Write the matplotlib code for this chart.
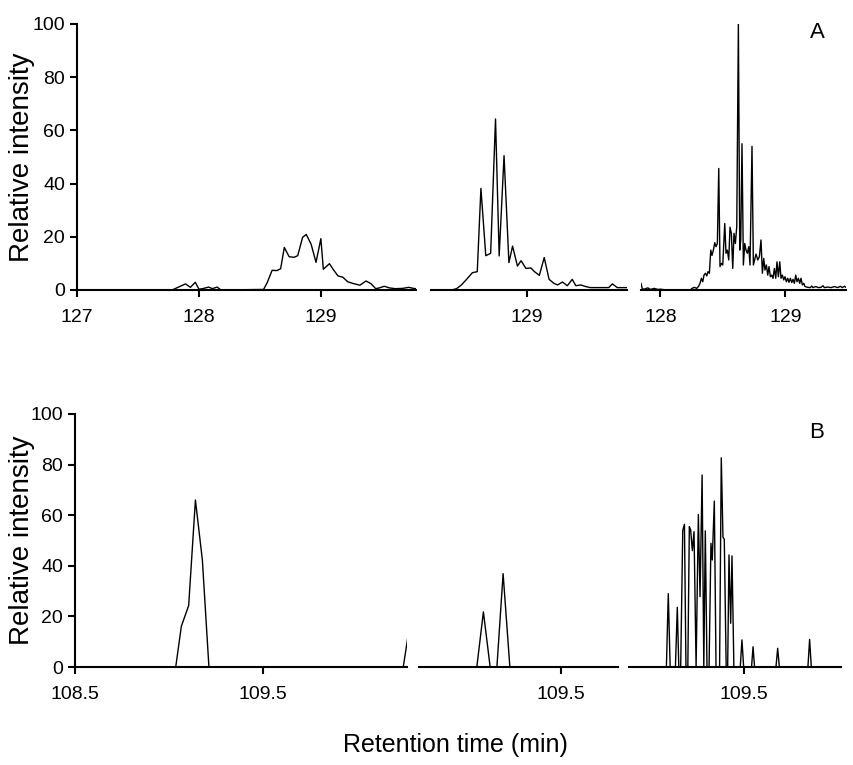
import numpy as np
import matplotlib.pyplot as plt

plt.rcParams['font.family'] = ['Liberation Sans', 'DejaVu Sans']

# ------------------------------------------------------------------
# data (retention time in min, rel. intensity)
# ------------------------------------------------------------------

# A, left
a1_t = [127.0, 127.78, 127.89, 127.93, 127.97, 128.0, 128.03, 128.08, 128.11, 128.15, 128.18,
        128.53, 128.56, 128.60, 128.64, 128.67, 128.70, 128.74, 128.78, 128.81, 128.85,
        128.88, 128.92, 128.96, 129.00, 129.02, 129.07, 129.10, 129.14, 129.18, 129.22,
        129.26, 129.32, 129.37, 129.41, 129.45, 129.48, 129.52, 129.56, 129.61, 129.67,
        129.72, 129.76, 129.80]
a1_y = [0, 0, 2.3, 1.0, 2.9, 0.3, 0.5, 1.1, 0.5, 1.1, 0,
        0.2, 2.8, 7.4, 7.3, 8.0, 16.0, 12.5, 12.3, 12.9, 19.8,
        20.9, 17.2, 10.4, 19.3, 7.8, 9.9, 7.8, 5.3, 4.8, 3.1,
        2.5, 1.8, 3.4, 2.4, 0.5, 0.8, 1.4, 0.8, 0.5, 0.6,
        1.0, 0.6, 0.4]

# A, middle
a2_t = [128.21, 128.38, 128.42, 128.46, 128.51, 128.55, 128.59, 128.62, 128.66, 128.70,
        128.74, 128.77, 128.81, 128.85, 128.88, 128.92, 128.95, 128.99, 129.03, 129.06,
        129.10, 129.14, 129.18, 129.22, 129.25, 129.29, 129.33, 129.37, 129.40, 129.44,
        129.48, 129.52, 129.67, 129.70, 129.74, 129.82]
a2_y = [0, 0, 0.5, 1.9, 4.4, 6.5, 6.9, 38.2, 12.9, 13.8,
        64.3, 12.8, 50.5, 10.3, 16.5, 9.0, 11.0, 8.1, 8.3, 6.9,
        5.5, 12.2, 4.0, 2.5, 1.9, 3.0, 1.6, 4.0, 1.6, 1.9,
        1.3, 0.9, 0.9, 2.3, 0.9, 0.9]

# A, right
a3_t = [127.845, 127.855, 127.87, 127.90, 127.92, 127.95, 127.98, 128.0, 128.05, 128.24,
        128.253, 128.272, 128.291, 128.307, 128.317, 128.328, 128.339, 128.349, 128.360,
        128.371, 128.381, 128.392, 128.403, 128.413, 128.424, 128.435, 128.445, 128.456,
        128.467, 128.477, 128.488, 128.499, 128.515, 128.525, 128.536, 128.547, 128.557,
        128.568, 128.579, 128.589, 128.600, 128.611, 128.624, 128.635, 128.643, 128.653,
        128.664, 128.675, 128.685, 128.696, 128.707, 128.717, 128.733, 128.744,
        128.765, 128.779, 128.792, 128.805, 128.816, 128.827, 128.837, 128.848, 128.859,
        128.869, 128.880, 128.891, 128.901, 128.912, 128.923, 128.933, 128.944, 128.955,
        128.965, 128.976, 128.987, 128.997, 129.008, 129.019, 129.029, 129.040, 129.051,
        129.061, 129.072, 129.083, 129.093, 129.104, 129.115, 129.125, 129.136, 129.147,
        129.157, 129.179, 129.200, 129.211, 129.221, 129.243, 129.264, 129.285, 129.301,
        129.312, 129.339, 129.365, 129.392, 129.419, 129.440, 129.456, 129.472, 129.485]
a3_y = [2.5, 0.5, 0.3, 0.8, 0.2, 0.6, 0.2, 0.3, 0, 0,
        0.6, 1.0, 0.6, 1.5, 2.5, 4.4, 3.1, 5.6, 6.3,
        5.3, 6.9, 6.3, 15.0, 13.0, 15.0, 17.8, 16.3, 17.5,
        45.7, 8.8, 10.0, 9.4, 25.0, 13.8, 15.0, 11.3, 23.6,
        21.3, 8.1, 21.3, 17.5, 23.8, 100.0, 15.0, 18.8, 55.0,
        9.4, 17.5, 15.0, 13.8, 16.3, 9.4, 54.0, 9.4,
        13.5, 11.3, 12.5, 18.8, 6.3, 11.9, 7.5, 9.4, 5.6,
        8.8, 5.0, 5.6, 4.4, 8.1, 4.4, 10.6, 5.0, 10.6,
        4.4, 5.6, 3.8, 5.0, 3.1, 4.4, 2.9, 4.4, 2.8,
        4.0, 2.5, 5.6, 3.1, 4.4, 2.5, 4.4, 1.9, 2.5,
        1.3, 1.0, 0.9, 1.5, 0.9, 1.3, 0.9, 1.0, 1.6,
        0.9, 1.1, 0.9, 1.3, 0.9, 1.4, 0.9, 1.4, 1.0]

# B, left
b1_t = [108.5, 109.037, 109.067, 109.106, 109.142, 109.179, 109.214, 110.25, 110.275]
b1_y = [0, 0, 16.1, 24.3, 66.0, 42.3, 0, 0, 12.0]

# B, middle
b2_t = [108.75, 109.053, 109.088, 109.124, 109.160, 109.193, 109.229, 109.81]
b2_y = [0, 0, 21.8, 0, 0, 36.9, 0, 0]

# B, right
b3_t = [108.89, 109.087, 109.097, 109.107, 109.135, 109.145, 109.153, 109.163, 109.174,
        109.183, 109.191, 109.201, 109.209, 109.216, 109.225, 109.234, 109.245, 109.257,
        109.266, 109.277, 109.286, 109.294, 109.303, 109.314, 109.324, 109.331, 109.342,
        109.351, 109.370, 109.379, 109.388, 109.395, 109.405, 109.413, 109.420, 109.429,
        109.436, 109.446, 109.480, 109.489, 109.498, 109.540, 109.548, 109.556, 109.670,
        109.679, 109.688, 109.840, 109.849, 109.858, 110.02]
b3_y = [0, 0, 29.0, 0, 0, 23.6, 0, 0, 54.0,
        56.4, 0, 0, 55.5, 54.2, 46.0, 53.5, 0, 60.3,
        27.8, 75.9, 0, 53.8, 0, 0, 48.9, 42.3, 65.6,
        0, 0, 82.7, 51.3, 50.5, 0, 0, 44.3, 17.3,
        43.9, 0, 0, 10.7, 0, 0, 8.0, 0, 0,
        7.4, 0, 0, 10.9, 0, 0]

# ------------------------------------------------------------------
fig = plt.figure(figsize=(8.54, 7.65), dpi=100)

W, H = 854.0, 765.0


def make_ax(x0, x1, y0, y1):
    # pixel box -> figure fraction
    return fig.add_axes([x0 / W, 1 - y1 / H, (x1 - x0) / W, (y1 - y0) / H])


def style(ax, xlim, xticks, xlabels, left=False):
    ax.set_xlim(*xlim)
    ax.set_ylim(0, 100)
    ax.set_xticks(xticks)
    ax.set_xticklabels(xlabels)
    for s in ['top', 'right']:
        ax.spines[s].set_visible(False)
    ax.spines['bottom'].set_linewidth(1.5)
    ax.tick_params(axis='both', direction='out', length=5, width=1.5, labelsize=14)
    ax.tick_params(axis='x', pad=9)
    if left:
        ax.spines['left'].set_linewidth(1.5)
        ax.set_yticks([0, 20, 40, 60, 80, 100])
    else:
        ax.spines['left'].set_visible(False)
        ax.set_yticks([])


panels = [
    ((77, 416, 24, 290), a1_t, a1_y, (127.0, 129.78), [127, 128, 129], ['127', '128', '129'], True),
    ((431, 627, 24, 290), a2_t, a2_y, (128.21, 129.82), [129], ['129'], False),
    ((641, 846, 24, 290), a3_t, a3_y, (127.845, 129.485), [128, 129], ['128', '129'], False),
    ((75, 407, 414, 667), b1_t, b1_y, (108.5, 110.27), [108.5, 109.5], ['108.5', '109.5'], True),
    ((419, 618, 414, 667), b2_t, b2_y, (108.745, 109.805), [109.5], ['109.5'], False),
    ((629, 841, 414, 667), b3_t, b3_y, (108.888, 110.016), [109.5], ['109.5'], False),
]

for box, t, y, xlim, ticks, labels, left in panels:
    ax = make_ax(*box)
    ax.plot(t, y, color='black', linewidth=1.0)
    style(ax, xlim, ticks, labels, left)

fig.text(0.026, 1 - 157 / H, 'Relative intensity', rotation=90, fontsize=20,
         ha='center', va='center')
fig.text(0.026, 1 - 540 / H, 'Relative intensity', rotation=90, fontsize=20,
         ha='center', va='center')
fig.text(455 / W, 1 - 745 / H, 'Retention time (min)', fontsize=18, ha='center', va='center')
fig.text(817 / W, 1 - 32 / H, 'A', fontsize=16, ha='center', va='center')
fig.text(817 / W, 1 - 433 / H, 'B', fontsize=16, ha='center', va='center')

plt.savefig('out.png', dpi=100)
